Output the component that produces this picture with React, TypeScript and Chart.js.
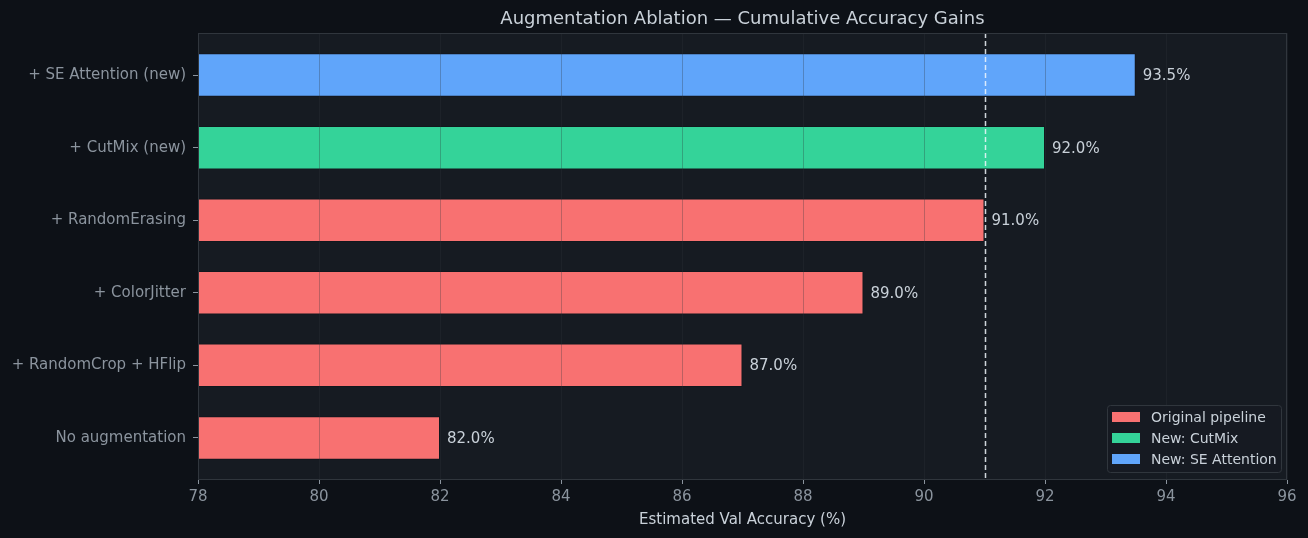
import { useEffect, useRef } from "react";
import { Chart, registerables } from "chart.js";

Chart.register(...registerables);

// bottom to top, same order as the reference
const categories = [
  "No augmentation",
  "+ RandomCrop + HFlip",
  "+ ColorJitter",
  "+ RandomErasing",
  "+ CutMix (new)",
  "+ SE Attention (new)",
];
const accuracy = [82.0, 87.0, 89.0, 91.0, 92.0, 93.5];
const groups = ["original", "original", "original", "original", "cutmix", "se"];
const xTicks = [78, 80, 82, 84, 86, 88, 90, 92, 94, 96];
const baselineLine = 91.0;

const groupColors: Record<string, string> = {
  original: "#f87171",
  cutmix: "#34d399",
  se: "#60a5fa",
};
const legendItems = [
  { label: "Original pipeline", color: groupColors.original },
  { label: "New: CutMix", color: groupColors.cutmix },
  { label: "New: SE Attention", color: groupColors.se },
];

const FONT = "'DejaVu Sans', sans-serif";
const BG = "#0d1117";
const PANEL = "#161b22";
const SPINE = "#30363d";
const TICK_TEXT = "#8b949e";
const TEXT = "#c9d1d9";

const decorations = {
  id: "decorations",
  beforeDraw(chart: Chart) {
    const { ctx, chartArea: a } = chart;
    ctx.save();
    ctx.fillStyle = PANEL;
    ctx.fillRect(a.left, a.top, a.right - a.left, a.bottom - a.top);
    ctx.restore();
  },
  afterDraw(chart: Chart) {
    const { ctx, chartArea: a } = chart;
    const x = chart.scales.x;
    const y = chart.scales.y;
    ctx.save();

    // reference line
    const lx = Math.round(x.getPixelForValue(baselineLine)) + 0.5;
    ctx.strokeStyle = "rgba(240,246,252,0.85)";
    ctx.lineWidth = 1.5;
    ctx.setLineDash([5, 3]);
    ctx.beginPath();
    ctx.moveTo(lx, a.top);
    ctx.lineTo(lx, a.bottom);
    ctx.stroke();
    ctx.setLineDash([]);

    // spines
    ctx.strokeStyle = SPINE;
    ctx.lineWidth = 1;
    ctx.strokeRect(a.left + 0.5, a.top + 0.5, a.right - a.left - 1, a.bottom - a.top - 1);

    // value labels
    ctx.font = `15px ${FONT}`;
    ctx.fillStyle = TEXT;
    ctx.textAlign = "left";
    ctx.textBaseline = "middle";
    accuracy.forEach((v, i) => {
      ctx.fillText(`${v.toFixed(1)}%`, x.getPixelForValue(v) + 7, y.getPixelForValue(i) + 1);
    });

    // title
    ctx.textAlign = "center";
    ctx.fillStyle = TEXT;
    ctx.font = `18px ${FONT}`;
    ctx.fillText("Augmentation Ablation — Cumulative Accuracy Gains", (a.left + a.right) / 2, 19);

    // x axis title
    ctx.font = `15px ${FONT}`;
    ctx.fillText("Estimated Val Accuracy (%)", (a.left + a.right) / 2, 520);

    // legend
    const bx = a.right - 180;
    const by = a.bottom - 75;
    const bw = 174;
    const bh = 67;
    ctx.fillStyle = "rgba(22,27,34,0.9)";
    ctx.strokeStyle = SPINE;
    ctx.beginPath();
    ctx.roundRect(bx + 0.5, by + 0.5, bw, bh, 3);
    ctx.fill();
    ctx.stroke();
    ctx.textAlign = "left";
    ctx.font = `14px ${FONT}`;
    legendItems.forEach((item, i) => {
      const cy = by + 12 + i * 21;
      ctx.fillStyle = item.color;
      ctx.fillRect(bx + 5, cy - 5, 28, 10);
      ctx.fillStyle = TEXT;
      ctx.fillText(item.label, bx + 44, cy + 1);
    });

    ctx.restore();
  },
};

export default function App() {
  const canvasRef = useRef<HTMLCanvasElement>(null);
  const chartRef = useRef<Chart | null>(null);

  useEffect(() => {
    document.body.style.margin = "0";
    document.body.style.background = BG;
    if (!canvasRef.current) return;

    chartRef.current?.destroy();
    chartRef.current = new Chart(canvasRef.current, {
      type: "bar",
      data: {
        datasets: [
          {
            data: accuracy.map((v, i) => ({ x: v, y: i })),
            backgroundColor: groups.map((g) => groupColors[g]),
            borderColor: "rgba(13,17,23,0.4)",
            borderWidth: 1,
            borderSkipped: false,
            barPercentage: 0.6,
            categoryPercentage: 1,
          },
        ],
      },
      options: {
        indexAxis: "y",
        animation: false,
        responsive: true,
        maintainAspectRatio: false,
        layout: { padding: { left: 0, right: 21, top: 33, bottom: 0 } },
        plugins: {
          legend: { display: false },
          tooltip: { enabled: false },
        },
        scales: {
          x: {
            type: "linear",
            min: 78,
            max: 96,
            afterBuildTicks: (scale) => {
              scale.ticks = xTicks.map((v) => ({ value: v }));
            },
            afterFit: (scale) => {
              scale.height = 58;
            },
            ticks: {
              color: TICK_TEXT,
              font: { family: FONT, size: 15 },
              padding: 4,
              maxRotation: 0,
            },
            grid: {
              color: "rgba(48,54,61,0.3)",
              tickColor: TICK_TEXT,
              tickLength: 4,
              z: 1,
            },
            border: { display: false },
          },
          y: {
            type: "linear",
            min: -0.58,
            max: 5.58,
            offset: false,
            afterBuildTicks: (scale) => {
              scale.ticks = categories.map((_, i) => ({ value: i }));
            },
            afterFit: (scale) => {
              scale.width = 198;
            },
            ticks: {
              color: TICK_TEXT,
              font: { family: FONT, size: 15 },
              padding: 7,
              callback: (v) => categories[Number(v)] ?? "",
            },
            grid: {
              offset: false,
              drawOnChartArea: false,
              tickColor: TICK_TEXT,
              tickLength: 5,
            },
            border: { display: false },
          },
        },
      },
      plugins: [decorations],
    });

    return () => {
      chartRef.current?.destroy();
    };
  }, []);

  return (
    <div style={{ width: 1308, height: 538, background: BG, position: "relative" }}>
      <canvas ref={canvasRef} />
    </div>
  );
}
